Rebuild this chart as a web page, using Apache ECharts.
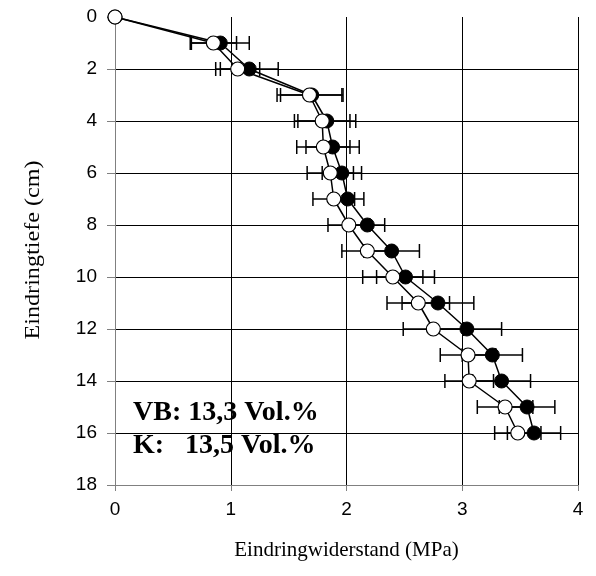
<!DOCTYPE html>
<html><head><meta charset="utf-8">
<script src="https://cdn.jsdelivr.net/npm/echarts@6/dist/echarts.min.js"></script>
<style>html,body{margin:0;padding:0;background:#fff}#c{width:596px;height:576px}</style>
</head><body><div id="c"></div>
<script>
// Depths (cm)
const depths = [0,1,2,3,4,5,6,7,8,9,10,11,12,13,14,15,16];
// Filled series (black circles), MPa
const filledVals = [0,0.91,1.16,1.70,1.83,1.88,1.96,2.01,2.18,2.39,2.51,2.79,3.04,3.26,3.34,3.56,3.62];
const filledErr  = [0,0.25,0.25,0.27,0.25,0.23,0.17,0.14,0.15,0.24,0.25,0.31,0.30,0.26,0.25,0.24,0.23];
// Open series (white circles), MPa
const openVals   = [0,0.85,1.06,1.68,1.79,1.80,1.86,1.89,2.02,2.18,2.40,2.62,2.75,3.05,3.06,3.37,3.48];
const openErr    = [0,0.20,0.19,0.28,0.24,0.23,0.20,0.18,0.18,0.22,0.26,0.27,0.26,0.24,0.21,0.24,0.20];
const xTicks = [0,1,2,3,4];
const yTicks = [0,2,4,6,8,10,12,14,16,18];
const note1 = 'VB: 13,3 Vol.%';
const note2 = 'K:   13,5 Vol.%';
const xName = 'Eindringwiderstand (MPa)';
const yName = 'Eindringtiefe (cm)';

const chart = echarts.init(document.getElementById('c'), null, {renderer:'canvas'});
function pts(v){ return depths.map((d,i)=>[v[i], d]); }
function errData(v,e){ return depths.map((d,i)=>[v[i]-e[i], v[i]+e[i], d]).filter((r,i)=>e[i]>0); }
function errRender(params, api){
  const lo = api.coord([api.value(0), api.value(2)]);
  const hi = api.coord([api.value(1), api.value(2)]);
  const h = 7;
  const st = {stroke:'#000', lineWidth:1.5};
  return {type:'group', children:[
    {type:'line', shape:{x1:lo[0],y1:lo[1],x2:hi[0],y2:hi[1]}, style:st},
    {type:'line', shape:{x1:lo[0],y1:lo[1]-h,x2:lo[0],y2:lo[1]+h}, style:st},
    {type:'line', shape:{x1:hi[0],y1:hi[1]-h,x2:hi[0],y2:hi[1]+h}, style:st}
  ]};
}
const tickFont = {fontFamily:'Liberation Sans', fontSize:19, color:'#000'};
chart.setOption({
  animation:false,
  grid:{left:115, right:18, top:17, bottom:91},
  xAxis:{type:'value', min:0, max:4, interval:1,
    axisLine:{show:true, onZero:false, lineStyle:{color:'#808080', width:1}},
    axisTick:{show:true, length:6, lineStyle:{color:'#808080'}},
    axisLabel:Object.assign({margin:15, formatter:v=>xTicks.includes(v)?String(v):''}, tickFont),
    splitLine:{show:true, showMinLine:false, lineStyle:{color:'#000', width:1}},
    name:xName, nameLocation:'middle', nameGap:55,
    nameTextStyle:{fontFamily:'Liberation Serif', fontSize:21, color:'#000'}
  },
  yAxis:{type:'value', min:0, max:18, interval:2, inverse:true,
    axisLine:{show:true, onZero:false, lineStyle:{color:'#808080', width:1}},
    axisTick:{show:true, length:8, lineStyle:{color:'#808080'}},
    axisLabel:Object.assign({margin:18, formatter:v=>yTicks.includes(v)?String(v):''}, tickFont),
    splitLine:{show:true, showMinLine:false, lineStyle:{color:'#000', width:1}}
  },
  graphic:[
    {type:'text', x:33, y:250, rotation:Math.PI/2, scaleX:1.15,
      style:{text:yName, font:'21px "Liberation Serif"', fill:'#000', align:'center', verticalAlign:'middle'}},
    {type:'text', left:133, top:399, style:{text:note1, font:'bold 28px "Liberation Serif"', fill:'#000'}},
    {type:'text', left:133, top:432, style:{text:note2, font:'bold 28px "Liberation Serif"', fill:'#000', whiteSpace:'pre'}}
  ],
  series:[
    {type:'custom', renderItem:errRender, data:errData(filledVals, filledErr), encode:{x:[0,1], y:2}, z:2, silent:true},
    {type:'custom', renderItem:errRender, data:errData(openVals, openErr), encode:{x:[0,1], y:2}, z:2, silent:true},
    {type:'line', data:pts(filledVals), symbol:'circle', symbolSize:14, z:3,
      lineStyle:{color:'#000', width:1.5}, itemStyle:{color:'#000', borderColor:'#000', borderWidth:1}},
    {type:'line', data:pts(openVals), symbol:'circle', symbolSize:14, z:4,
      lineStyle:{color:'#000', width:1.5}, itemStyle:{color:'#fff', borderColor:'#000', borderWidth:1.2}}
  ]
});
</script></body></html>
